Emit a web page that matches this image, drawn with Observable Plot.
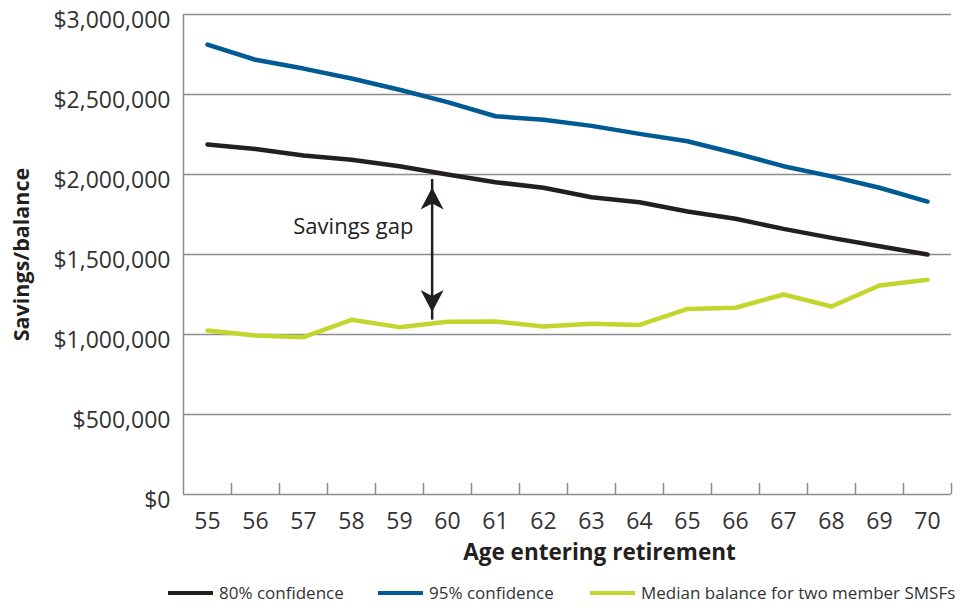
<!DOCTYPE html>
<html>
<head>
<meta charset="utf-8">
<script src="https://cdn.jsdelivr.net/npm/d3@7"></script>
<script src="https://cdn.jsdelivr.net/npm/@observablehq/plot@0.6"></script>
<style>
  html, body { margin: 0; padding: 0; background: #fff; }
  #wrap { position: relative; width: 960px; height: 608px; font-family: "Open Sans", sans-serif; color: #231f20; }
  #legend { position: absolute; left: 0; top: 575px; width: 960px; height: 33px; font-size: 17px; color: #333; }
  .item { position: absolute; top: 1px; height: 33px; display: flex; align-items: center; white-space: nowrap; }
  .sw { display: inline-block; width: 45px; height: 4px; margin-right: 6px; }
</style>
</head>
<body>
<div id="wrap">
  <div id="chart"></div>
  <div id="legend"></div>
</div>
<script>
// ---- data ----
const ages = [55, 56, 57, 58, 59, 60, 61, 62, 63, 64, 65, 66, 67, 68, 69, 70];
const conf80 = [2188000, 2160000, 2119000, 2092000, 2052000, 2000000, 1952000, 1917000, 1858000, 1827000, 1769000, 1723000, 1660000, 1604000, 1552000, 1500000];
const conf95 = [2812000, 2717000, 2662000, 2600000, 2530000, 2452000, 2364000, 2342000, 2304000, 2254000, 2208000, 2133000, 2052000, 1988000, 1917000, 1831000];
const median = [1025000, 994000, 983000, 1092000, 1046000, 1079000, 1081000, 1050000, 1067000, 1060000, 1160000, 1167000, 1250000, 1175000, 1306000, 1342000];
const yTicks = [0, 500000, 1000000, 1500000, 2000000, 2500000, 3000000];
const seriesNames = ["80% confidence", "95% confidence", "Median balance for two member SMSFs"];
const seriesColors = ["#231f20", "#005a93", "#c2d62e"];
const gapLabel = "Savings gap";
const gapArrow = { age: 59.68, from: 1140000, to: 1919000 };
const gapText = { age: 59.29, value: 1670000 };

// ---- tables built from the arrays ----
const rows = [];
[conf80, conf95, median].forEach((vals, s) => {
  ages.forEach((a, i) => rows.push({ series: seriesNames[s], age: a, value: vals[i] }));
});
const boundaries = ages.map(a => a + 0.5);

const grid = "#8c8c8c";
const upHead = { draw(ctx, size) { const k = Math.sqrt(size / Math.PI) / 10;
  ctx.moveTo(0, 0); ctx.lineTo(11.5 * k, 22 * k); ctx.lineTo(0, 16 * k); ctx.lineTo(-11.5 * k, 22 * k); ctx.closePath(); } };
const downHead = { draw(ctx, size) { const k = Math.sqrt(size / Math.PI) / 10;
  ctx.moveTo(0, 0); ctx.lineTo(11.5 * k, -22 * k); ctx.lineTo(0, -16 * k); ctx.lineTo(-11.5 * k, -22 * k); ctx.closePath(); } };

const chart = Plot.plot({
  width: 960,
  height: 575,
  marginLeft: 183,
  marginRight: 9,
  marginTop: 14,
  marginBottom: 81,
  style: { fontFamily: "Open Sans, sans-serif", color: "#231f20", background: "#fff" },
  x: { type: "linear", domain: [ages[0] - 0.5, ages[ages.length - 1] + 0.5] },
  y: { type: "linear", domain: [0, 3000000] },
  color: { domain: seriesNames, range: seriesColors },
  marks: [
    Plot.gridY(yTicks, { stroke: grid, strokeOpacity: 1, strokeWidth: 1.5 }),
    Plot.ruleX([ages[0] - 0.5], { stroke: grid, strokeWidth: 1.5 }),
    Plot.ruleX(boundaries, { x: d => d, y1: 0, y2: 0, insetTop: -11, stroke: grid, strokeWidth: 1.5 }),
    Plot.axisY(yTicks, { tickSize: 0, tickPadding: 13, fontSize: 23, dy: 6, tickFormat: d3.format("$,"), label: null, fill: "#333" }),
    Plot.axisX(ages, { tickSize: 0, tickPadding: 18, fontSize: 23, tickFormat: d => String(d), label: null, fill: "#333" }),
    Plot.line(rows, { x: "age", y: "value", z: "series", stroke: "series", strokeWidth: 4.5 }),
    Plot.ruleX([gapArrow], { x: "age", y1: "from", y2: "to", stroke: "#231f20", strokeWidth: 2.5, insetTop: 8, insetBottom: 8 }),
    Plot.dot([gapArrow], { x: "age", y: "to", symbol: upHead, r: 10, fill: "#231f20", stroke: null }),
    Plot.dot([gapArrow], { x: "age", y: "from", symbol: downHead, r: 10, fill: "#231f20", stroke: null }),
    Plot.text([gapText], { x: "age", y: "value", text: () => gapLabel, textAnchor: "end", fontSize: 22, fill: "#231f20" }),
    Plot.text(["Savings/balance"], { text: d => d, frameAnchor: "left", textAnchor: "middle", dx: -161, rotate: -90, fontSize: 21.5, fontWeight: "bold", fill: "#231f20" }),
    Plot.text(["Age entering retirement"], { text: d => d, frameAnchor: "bottom", textAnchor: "middle", dx: 32, dy: 65, fontSize: 22.5, fontWeight: "bold", fill: "#231f20" })
  ]
});
document.getElementById("chart").appendChild(chart);

// ---- legend ----
const legendX = [168, 378, 590];
const legend = document.getElementById("legend");
seriesNames.forEach((name, i) => {
  const item = document.createElement("div");
  item.className = "item";
  item.style.left = legendX[i] + "px";
  const sw = document.createElement("span");
  sw.className = "sw";
  sw.style.background = seriesColors[i];
  const t = document.createElement("span");
  t.textContent = name;
  item.appendChild(sw);
  item.appendChild(t);
  legend.appendChild(item);
});
</script>
</body>
</html>
